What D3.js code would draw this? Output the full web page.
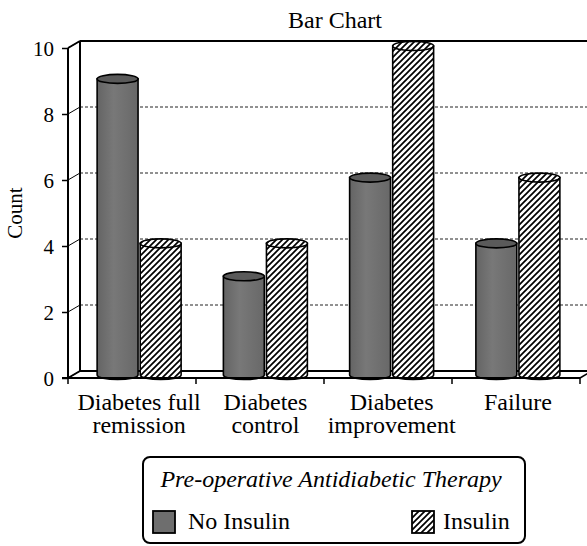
<!DOCTYPE html>
<html>
<head>
<meta charset="utf-8">
<script src="https://cdn.jsdelivr.net/npm/d3@7"></script>
<style>
  html, body { margin: 0; padding: 0; background: #fff; }
</style>
</head>
<body>
<svg id="chart" width="587" height="546"></svg>
<script>
// ---- data ----
const categories = [["Diabetes full", "remission"], ["Diabetes", "control"], ["Diabetes", "improvement"], ["Failure"]];
const seriesNames = ["No Insulin", "Insulin"];
const noInsulin = [9, 3, 6, 4];
const insulin = [4, 4, 10, 6];
const yTicks = [0, 2, 4, 6, 8, 10];
const chartTitle = "Bar Chart";
const yTitle = "Count";
const legendTitle = "Pre-operative Antidiabetic Therapy";

const FONT = "Liberation Serif";
const svg = d3.select("#chart");
const catKeys = categories.map(c => c.join(" "));
function serif(sel) { return sel.attr("font-family", FONT).style("font-family", `'${FONT}'`); }

// depth offset for the pseudo-3D back wall
const DX = 12, DY = -7;

const yFront = d3.scaleLinear().domain([0, 10]).range([378, 48]);
const yBar = d3.scaleLinear().domain([0, 10]).range([375, 46]);
const xFront = d3.scaleBand().domain(catKeys).range([68, 580]);
const xBar = d3.scaleBand().domain(catKeys).range([76, 581]);
const xSeries = d3.scaleBand().domain(seriesNames).range([-42, 42]).paddingInner(0.05);

// defs: hatch pattern + gradient
const defs = svg.append("defs");
const pat = defs.append("pattern").attr("id", "hatch").attr("patternUnits", "userSpaceOnUse")
  .attr("width", 6).attr("height", 6);
pat.append("rect").attr("width", 6).attr("height", 6).attr("fill", "#fff");
pat.append("path").attr("d", "M0,6 L6,0 M-1.5,1.5 L1.5,-1.5 M4.5,7.5 L7.5,4.5")
  .attr("stroke", "#000").attr("stroke-width", 1.7);
const grad = defs.append("linearGradient").attr("id", "grayGrad").attr("x1", 0).attr("x2", 1).attr("y1", 0).attr("y2", 0);
grad.append("stop").attr("offset", "0%").attr("stop-color", "#646464");
grad.append("stop").attr("offset", "40%").attr("stop-color", "#787878");
grad.append("stop").attr("offset", "100%").attr("stop-color", "#686868");

// ---- back wall ----
const backLeft = 68 + DX, backRight = 587;
svg.append("g").selectAll("line").data(yTicks.filter(t => t > 0 && t < 10)).join("line")
  .attr("x1", backLeft).attr("x2", backRight)
  .attr("y1", d => yFront(d) + DY).attr("y2", d => yFront(d) + DY)
  .attr("stroke", "#222").attr("stroke-width", 1).attr("stroke-dasharray", "3,2");
svg.append("g").selectAll("line").data(yTicks).join("line")
  .attr("x1", 68).attr("x2", backLeft)
  .attr("y1", d => yFront(d)).attr("y2", d => yFront(d) + DY)
  .attr("stroke", "#000").attr("stroke-width", 1);
svg.append("line").attr("x1", backLeft).attr("x2", backRight)
  .attr("y1", yFront(10) + DY).attr("y2", yFront(10) + DY).attr("stroke", "#000").attr("stroke-width", 2.2);
svg.append("line").attr("x1", backLeft).attr("x2", backLeft)
  .attr("y1", yFront(10) + DY).attr("y2", yFront(0) + DY).attr("stroke", "#000").attr("stroke-width", 2);
svg.append("line").attr("x1", 68).attr("x2", backLeft)
  .attr("y1", yFront(10)).attr("y2", yFront(10) + DY).attr("stroke", "#000").attr("stroke-width", 2);
svg.append("line").attr("x1", backLeft).attr("x2", backRight)
  .attr("y1", yFront(0) + DY).attr("y2", yFront(0) + DY).attr("stroke", "#000").attr("stroke-width", 2.2);
svg.append("line").attr("x1", 68).attr("x2", backLeft)
  .attr("y1", yFront(0)).attr("y2", yFront(0) + DY).attr("stroke", "#000").attr("stroke-width", 2);
svg.append("line").attr("x1", 580).attr("x2", 580 + DX)
  .attr("y1", yFront(0)).attr("y2", yFront(0) + DY).attr("stroke", "#000").attr("stroke-width", 1.5);

// ---- bars (cylinders) ----
const RY = 4.5;
const barData = [];
catKeys.forEach((k, i) => {
  barData.push({ cat: k, s: seriesNames[0], v: noInsulin[i] });
  barData.push({ cat: k, s: seriesNames[1], v: insulin[i] });
});
const bw = xSeries.bandwidth();
const bars = svg.append("g").selectAll("g").data(barData).join("g");
function bx(d) { return xBar(d.cat) + xBar.bandwidth() / 2 + xSeries(d.s); }
bars.append("path")
  .attr("d", d => {
    const x0 = bx(d), x1 = x0 + bw, yt = yBar(d.v), yb = yBar(0), rx = bw / 2;
    return `M${x0},${yt} L${x0},${yb} A${rx},${RY} 0 0 0 ${x1},${yb} L${x1},${yt} Z`;
  })
  .attr("fill", d => d.s === "Insulin" ? "url(#hatch)" : "url(#grayGrad)")
  .attr("stroke", "#000").attr("stroke-width", 1.6);
bars.append("ellipse")
  .attr("cx", d => bx(d) + bw / 2).attr("cy", d => yBar(d.v))
  .attr("rx", bw / 2).attr("ry", RY)
  .attr("fill", d => d.s === "Insulin" ? "url(#hatch)" : "#5a5a5a")
  .attr("stroke", "#000").attr("stroke-width", 1.6);

// ---- front axes ----
svg.append("line").attr("x1", 68).attr("x2", 68).attr("y1", yFront(10)).attr("y2", yFront(0) + 1)
  .attr("stroke", "#000").attr("stroke-width", 2);
svg.append("line").attr("x1", 62).attr("x2", 580).attr("y1", yFront(0)).attr("y2", yFront(0))
  .attr("stroke", "#000").attr("stroke-width", 2);
const yAxis = d3.axisLeft(yFront).tickValues(yTicks).tickSize(6).tickPadding(8);
const gy = svg.append("g").attr("transform", "translate(68,0)").call(yAxis);
serif(gy).attr("font-size", 21);
gy.select(".domain").remove();
gy.selectAll(".tick line").attr("stroke", "#000").attr("stroke-width", 1.5);
serif(gy.selectAll(".tick text")).attr("font-size", 21).attr("fill", "#000").attr("dy", "0.34em");

const edges = catKeys.map(k => xFront(k)).concat([xFront.range()[1]]);
svg.append("g").selectAll("line").data(edges).join("line")
  .attr("x1", d => d).attr("x2", d => d).attr("y1", yFront(0)).attr("y2", yFront(0) + 6)
  .attr("stroke", "#000").attr("stroke-width", 1.5);

// category labels: one text per line
const labLines = [];
categories.forEach((c, i) => c.forEach((line, j) => labLines.push({ k: catKeys[i], line, j })));
serif(svg.append("g").selectAll("text").data(labLines).join("text"))
  .attr("text-anchor", "middle").attr("font-size", 24).attr("fill", "#000")
  .attr("x", d => xBar(d.k) + xBar.bandwidth() / 2)
  .attr("y", d => 410 + d.j * 23)
  .text(d => d.line);

serif(svg.append("text")).attr("x", 335).attr("y", 28).attr("text-anchor", "middle")
  .attr("font-size", 24).attr("fill", "#000").text(chartTitle);
serif(svg.append("text")).attr("transform", "translate(22,213) rotate(-90)").attr("text-anchor", "middle")
  .attr("font-size", 21).attr("fill", "#000").text(yTitle);

// ---- legend ----
const lg = svg.append("g");
lg.append("rect").attr("x", 143).attr("y", 457).attr("width", 382).attr("height", 86).attr("rx", 7)
  .attr("fill", "#fff").attr("stroke", "#000").attr("stroke-width", 2);
serif(lg.append("text")).attr("x", 331).attr("y", 487).attr("text-anchor", "middle")
  .attr("font-size", 24).attr("font-style", "italic").attr("fill", "#000").text(legendTitle);
const legX = [153, 412];
seriesNames.forEach((s, i) => {
  lg.append("rect").attr("x", legX[i]).attr("y", 511).attr("width", 22).attr("height", 22)
    .attr("fill", i === 0 ? "#6e6e6e" : "url(#hatch)").attr("stroke", "#000").attr("stroke-width", 1.8);
  serif(lg.append("text")).attr("x", legX[i] + (i === 0 ? 35 : 31)).attr("y", 529)
    .attr("font-size", 24).attr("fill", "#000").text(s);
});
</script>
</body>
</html>
